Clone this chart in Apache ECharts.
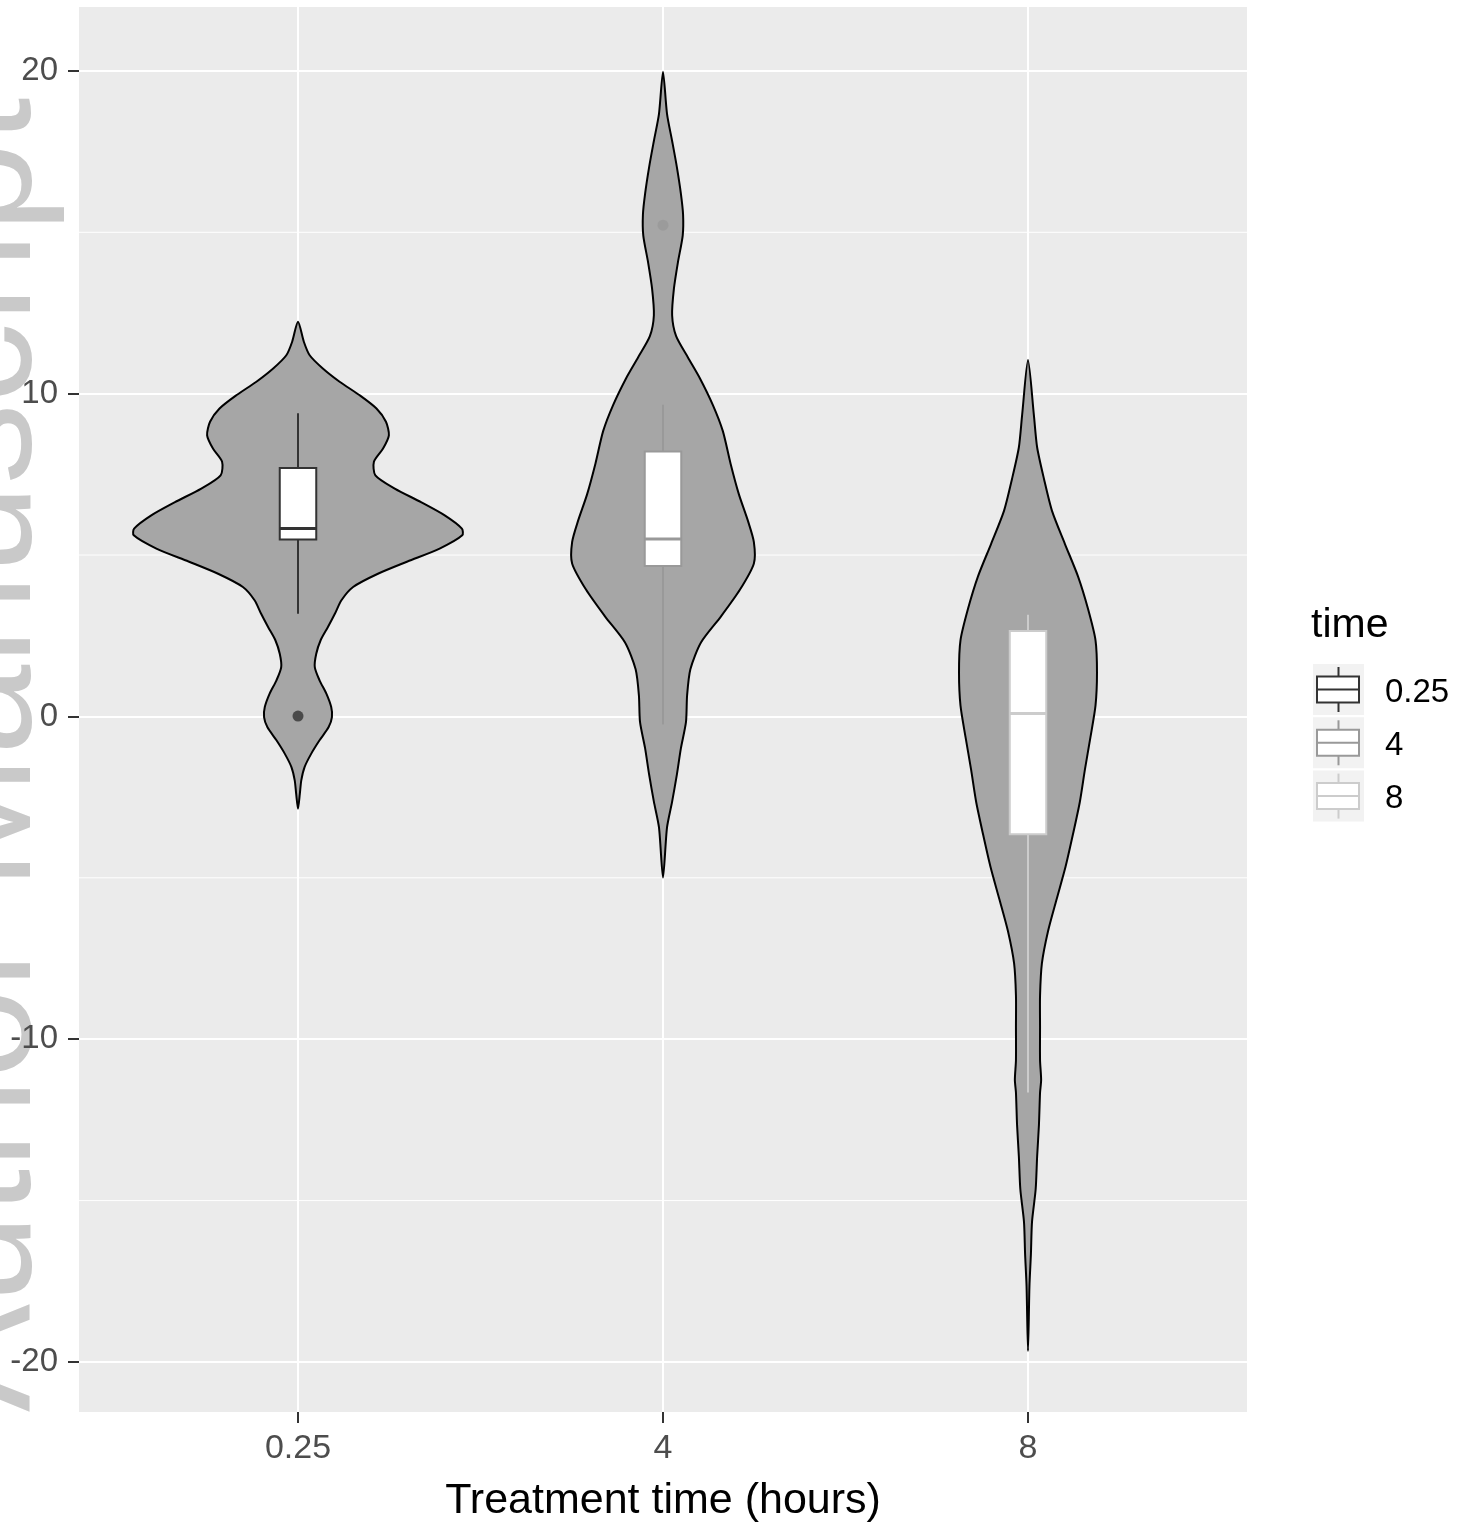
<!DOCTYPE html>
<html>
<head>
<meta charset="utf-8">
<title>Treatment time violin plot</title>
<script src="https://cdn.jsdelivr.net/npm/echarts@6.0.0/dist/echarts.min.js"></script>
<style>
  html, body { margin: 0; padding: 0; background: #fff; }
  #main { width: 1463px; height: 1528px; }
</style>
</head>
<body>
<div id="main"></div>
<script>
// categories and axis breaks
const timeLevels = ['0.25', '4', '8'];
const xTicks = [0, 1, 2];
const yTicks = [-20, -10, 0, 10, 20];
const yMinor = [-15, -5, 5, 15];

// violin outlines: y value and half width (in category units)
const violin025Y = [12.23, 11.61, 11.19, 10.78, 10.37, 9.95, 9.54, 9.13, 8.71, 8.30, 7.89, 7.47, 7.06, 6.64, 6.23, 5.82, 5.61, 5.20, 4.80, 4.42, 4.01, 3.60, 3.18, 2.77, 2.36, 1.94, 1.53, 1.12, 0.70, 0.29, -0.02, -0.33, -0.74, -1.16, -1.57, -1.98, -2.40, -2.86];
const violin025W = [0, 0.016, 0.032, 0.068, 0.114, 0.169, 0.215, 0.241, 0.249, 0.233, 0.208, 0.212, 0.265, 0.337, 0.402, 0.449, 0.45, 0.388, 0.30, 0.219, 0.151, 0.119, 0.101, 0.082, 0.062, 0.050, 0.046, 0.059, 0.078, 0.091, 0.093, 0.084, 0.059, 0.036, 0.018, 0.009, 0.005, 0];

const violin4Y = [19.97, 18.67, 17.83, 17.02, 16.20, 15.55, 14.90, 14.08, 13.26, 12.43, 11.78, 11.13, 10.48, 9.64, 8.84, 7.84, 6.88, 6.05, 5.40, 4.74, 3.93, 3.10, 2.29, 1.46, 0.65, -0.17, -0.99, -1.80, -2.64, -3.44, -4.99];
const violin4W = [0, 0.011, 0.025, 0.038, 0.049, 0.055, 0.054, 0.041, 0.030, 0.025, 0.036, 0.068, 0.101, 0.137, 0.164, 0.185, 0.208, 0.233, 0.249, 0.249, 0.211, 0.159, 0.104, 0.075, 0.066, 0.063, 0.049, 0.038, 0.025, 0.011, 0];

const violin8Y = [11.04, 9.35, 8.34, 7.35, 6.36, 5.35, 4.34, 3.35, 2.36, 1.35, 0.34, -0.65, -1.64, -2.65, -3.66, -4.65, -5.64, -6.65, -7.66, -8.65, -9.64, -10.65, -11.26, -11.66, -12.65, -13.64, -14.65, -15.66, -16.65, -17.64, -19.66];
const violin8W = [0, 0.016, 0.025, 0.044, 0.066, 0.101, 0.137, 0.164, 0.185, 0.189, 0.185, 0.171, 0.156, 0.142, 0.123, 0.103, 0.079, 0.055, 0.038, 0.033, 0.033, 0.033, 0.036, 0.033, 0.030, 0.025, 0.021, 0.011, 0.008, 0.004, 0];

// boxplot stats: [lower whisker, Q1, median, Q3, upper whisker]
const box025 = [3.18, 5.48, 5.82, 7.70, 9.39];
const box4 = [-0.25, 4.66, 5.50, 8.21, 9.66];
const box8 = [-11.65, -3.65, 0.09, 2.65, 3.15];
const outlierTime = [0, 1];
const outlierValue = [0.01, 15.22];

const violinY = [violin025Y, violin4Y, violin8Y];
const violinW = [violin025W, violin4W, violin8W];
const boxStats = [box025, box4, box8];

const boxColors = ['#333333', '#999999', '#cccccc'];
const FONT = 'Liberation Sans, Arial, sans-serif';

var chart = echarts.init(document.getElementById('main'), null, { renderer: 'canvas' });

function violinItem(params, api) {
  var i = api.value(0);
  var ys = violinY[i], ws = violinW[i];
  var right = [], left = [];
  for (var k = 0; k < ys.length; k++) {
    right.push(api.coord([i + ws[k], ys[k]]));
    if (k > 0 && k < ys.length - 1) left.push(api.coord([i - ws[k], ys[k]]));
  }
  var pts = right.concat(left.reverse());
  return {
    type: 'polygon',
    shape: { points: pts, smooth: 0.25 },
    style: { fill: '#a6a6a6', stroke: '#000', lineWidth: 2 }
  };
}

function boxItem(params, api) {
  var i = api.value(0);
  var s = boxStats[i];
  var c = boxColors[i];
  var hw = 0.05;
  var lo = api.coord([i, s[0]]), q1 = api.coord([i, s[1]]);
  var q3 = api.coord([i, s[3]]), hi = api.coord([i, s[4]]);
  var tl = api.coord([i - hw, s[3]]), br = api.coord([i + hw, s[1]]);
  var ml = api.coord([i - hw, s[2]]), mr = api.coord([i + hw, s[2]]);
  var ls = { stroke: c, lineWidth: 2 };
  return {
    type: 'group',
    children: [
      { type: 'line', shape: { x1: hi[0], y1: hi[1], x2: q3[0], y2: q3[1] }, style: ls },
      { type: 'line', shape: { x1: q1[0], y1: q1[1], x2: lo[0], y2: lo[1] }, style: ls },
      { type: 'rect', shape: { x: tl[0], y: tl[1], width: br[0] - tl[0], height: br[1] - tl[1] },
        style: { fill: '#fff', stroke: c, lineWidth: 2 } },
      { type: 'line', shape: { x1: ml[0], y1: ml[1], x2: mr[0], y2: mr[1] }, style: { stroke: c, lineWidth: 3 } }
    ]
  };
}

function minorGridItem(params, api) {
  var p = api.coord([0, api.value(0)]);
  var cs = params.coordSys;
  return {
    type: 'line',
    shape: { x1: cs.x, y1: p[1], x2: cs.x + cs.width, y2: p[1] },
    style: { stroke: '#ffffff', lineWidth: 1 }
  };
}

// legend drawn by hand, ggplot style keys
var legendKeys = [];
var keyTop = 664, keyStep = 53.3, keySize = 51, keyLeft = 1313;
timeLevels.forEach(function (t, i) {
  var y0 = keyTop + i * keyStep;
  var c = boxColors[i];
  legendKeys.push(
    { type: 'rect', shape: { x: keyLeft, y: y0, width: keySize, height: keySize }, style: { fill: '#f2f2f2' } },
    { type: 'line', shape: { x1: keyLeft + keySize / 2, y1: y0 + 3, x2: keyLeft + keySize / 2, y2: y0 + 12.5 }, style: { stroke: c, lineWidth: 2 } },
    { type: 'line', shape: { x1: keyLeft + keySize / 2, y1: y0 + 38.5, x2: keyLeft + keySize / 2, y2: y0 + 48 }, style: { stroke: c, lineWidth: 2 } },
    { type: 'rect', shape: { x: keyLeft + 4, y: y0 + 12.5, width: keySize - 9, height: 26 }, style: { fill: '#fff', stroke: c, lineWidth: 2 } },
    { type: 'line', shape: { x1: keyLeft + 4, y1: y0 + 25.5, x2: keyLeft + keySize - 5, y2: y0 + 25.5 }, style: { stroke: c, lineWidth: 2 } },
    { type: 'text', x: 1385, y: y0 + keySize / 2 + 3,
      style: { text: t, fontSize: 33, fontFamily: FONT, fill: '#000', align: 'left', verticalAlign: 'middle' } }
  );
});

var option = {
  animation: false,
  backgroundColor: '#ffffff',
  grid: {
    left: 79, top: 7, width: 1168, height: 1405,
    show: true, backgroundColor: '#ebebeb', borderWidth: 0
  },
  xAxis: {
    type: 'value',
    min: -0.6, max: 2.6,
    axisLine: { show: false, onZero: false },
    axisTick: { show: true, customValues: xTicks, length: 11, lineStyle: { color: '#333', width: 2 } },
    axisLabel: {
      customValues: xTicks,
      formatter: function (v) { return timeLevels[Math.round(v)]; },
      color: '#4d4d4d', fontSize: 34, fontFamily: FONT, margin: 20
    },
    splitLine: { show: true, lineStyle: { color: '#ffffff', width: 2 } },
    name: 'Treatment time (hours)',
    nameLocation: 'middle',
    nameGap: 68,
    nameTextStyle: { fontSize: 43, color: '#000', fontFamily: FONT }
  },
  yAxis: {
    type: 'value',
    min: -21.55, max: 21.98,
    axisLine: { show: false, onZero: false },
    axisTick: { show: true, customValues: yTicks, length: 11, lineStyle: { color: '#333', width: 2 } },
    axisLabel: { customValues: yTicks, color: '#4d4d4d', fontSize: 33, fontFamily: FONT, margin: 21 },
    splitLine: { show: true, lineStyle: { color: '#ffffff', width: 2 } }
  },
  graphic: [
    {
      type: 'text', x: -15, y: 1412, rotation: Math.PI / 2, z: -10, silent: true,
      style: { text: 'Author Manuscript', fontSize: 162, fontFamily: FONT, fill: '#c9c9c9', align: 'left', verticalAlign: 'middle' }
    },
    {
      type: 'text', x: 1311, y: 626,
      style: { text: 'time', fontSize: 41, fontFamily: FONT, fill: '#000', align: 'left', verticalAlign: 'middle' }
    }
  ].concat(legendKeys),
  series: [
    {
      type: 'custom', name: 'minor', z: 1, silent: true,
      renderItem: minorGridItem,
      encode: { y: 0 },
      data: yMinor.map(function (v) { return [v]; })
    },
    {
      type: 'custom', name: 'violin', z: 2, silent: true,
      renderItem: violinItem,
      encode: { x: 0, y: 1 },
      data: timeLevels.map(function (t, i) { return [i, 0]; })
    },
    {
      type: 'custom', name: 'box', z: 3, silent: true,
      renderItem: boxItem,
      encode: { x: 0, y: 1 },
      data: timeLevels.map(function (t, i) { return [i, boxStats[i][2]]; })
    },
    {
      type: 'scatter', name: 'outliers', z: 4, silent: true,
      symbolSize: 11,
      itemStyle: { color: function (p) { return boxColors[outlierTime[p.dataIndex]]; } },
      data: outlierTime.map(function (t, i) { return [t, outlierValue[i]]; })
    }
  ]
};

option && chart.setOption(option);
</script>
</body>
</html>
